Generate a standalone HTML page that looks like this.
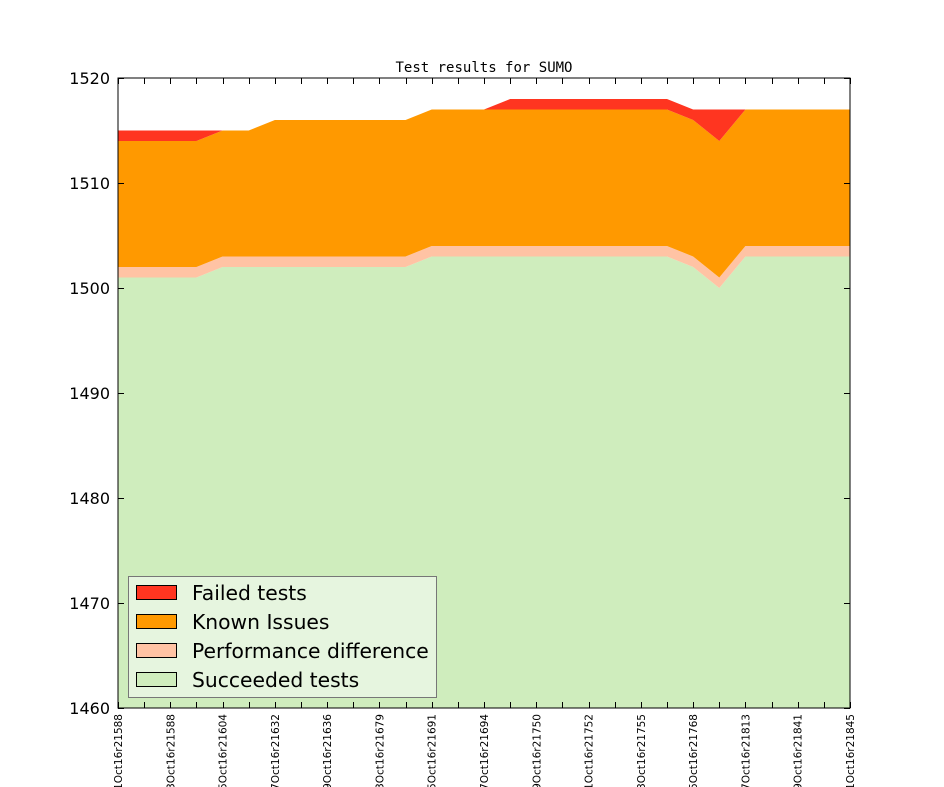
<!DOCTYPE html>
<html><head><meta charset="utf-8"><style>
html,body{margin:0;padding:0;background:#fff;}
svg{display:block;font-family:"DejaVu Sans","Liberation Sans",sans-serif;}
</style></head><body>
<svg id="s" width="944" height="787" xmlns="http://www.w3.org/2000/svg">
<rect width="944" height="787" fill="#fff"/>
<g id="areas"></g>
<rect x="118" y="78" width="732" height="630" fill="none" stroke="#000" stroke-width="1"/>
<g id="ticks"></g>
<text x="484" y="72" font-family="DejaVu Sans Mono, Liberation Mono, monospace" font-size="14" text-anchor="middle">Test results for SUMO</text>
<g font-size="16" text-anchor="end">
<text x="110" y="84">1520</text>
<text x="110" y="189">1510</text>
<text x="110" y="294">1500</text>
<text x="110" y="399">1490</text>
<text x="110" y="504">1480</text>
<text x="110" y="609">1470</text>
<text x="110" y="714">1460</text>
</g>
<g id="xl" font-size="10.5" text-anchor="end"></g>
<rect x="128.5" y="576.5" width="308" height="121" fill="#e6f5df" stroke="#777" stroke-width="1"/>
<rect x="136.5" y="585.5" width="40" height="14" fill="#ff3520" stroke="#000"/>
<rect x="136.5" y="614.5" width="40" height="14" fill="#ff9900" stroke="#000"/>
<rect x="136.5" y="643.5" width="40" height="14" fill="#ffc3a4" stroke="#000"/>
<rect x="136.5" y="672.5" width="40" height="14" fill="#cfedbd" stroke="#000"/>
<g font-size="20.3">
<text x="192" y="600">Failed tests</text>
<text x="192" y="629">Known Issues</text>
<text x="192" y="658">Performance difference</text>
<text x="192" y="687">Succeeded tests</text>
</g>
</svg>
<script>
var N=29,xs=[];for(var i=0;i<N;i++)xs.push(118+i*732/28);
function Y(v){return 708-(v-1460)*10.5;}
var succ=[],known=[],fail=[];
for(var i=0;i<N;i++){
 var s=i<=3?1501:i<=11?1502:i<=21?1503:i==22?1502:i==23?1500:1503;
 var k=i<=3?1514:i<=5?1515:i<=11?1516:i<=21?1517:i==22?1516:i==23?1514:1517;
 var f=i<=5?1515:i<=11?1516:i<=14?1517:i<=21?1518:1517;
 succ.push(s);known.push(k);fail.push(f);}
var perf=succ.map(function(v){return v+1;});
function band(lo,hi,col){
 var p=[];for(var i=0;i<N;i++)p.push(xs[i]+","+(lo?Y(lo[i]):708));
 for(var i=N-1;i>=0;i--)p.push(xs[i]+","+Y(hi[i]));
 return '<polygon points="'+p.join(" ")+'" fill="'+col+'"/>';}
var ns=document.getElementById("areas");
ns.innerHTML=band(null,succ,"#cfedbd")+band(succ,perf,"#ffc3a4")+band(perf,known,"#ff9900")+band(known,fail,"#ff3520");
var t="",l="";
var labs=["01Oct16r21588","03Oct16r21588","05Oct16r21604","07Oct16r21632","09Oct16r21636","13Oct16r21679","15Oct16r21691","17Oct16r21694","19Oct16r21750","21Oct16r21752","23Oct16r21755","25Oct16r21768","27Oct16r21813","29Oct16r21841","31Oct16r21845"];
for(var i=0;i<N;i++){var x=Math.round(xs[i])+0.5;
 t+='<line x1="'+x+'" y1="708" x2="'+x+'" y2="702" stroke="#000"/><line x1="'+x+'" y1="78" x2="'+x+'" y2="84" stroke="#000"/>';
 if(i%2==0){l+='<text transform="translate('+(xs[i]+4)+',714) rotate(-90)">'+labs[i/2]+'</text>';}}
for(var v=1460;v<=1520;v+=10){var y=Y(v)+0.5;t+='<line x1="118" y1="'+y+'" x2="124" y2="'+y+'" stroke="#000"/><line x1="850" y1="'+y+'" x2="844" y2="'+y+'" stroke="#000"/>';}
document.getElementById("ticks").innerHTML=t;
document.getElementById("xl").innerHTML=l;
</script>
</body></html>
